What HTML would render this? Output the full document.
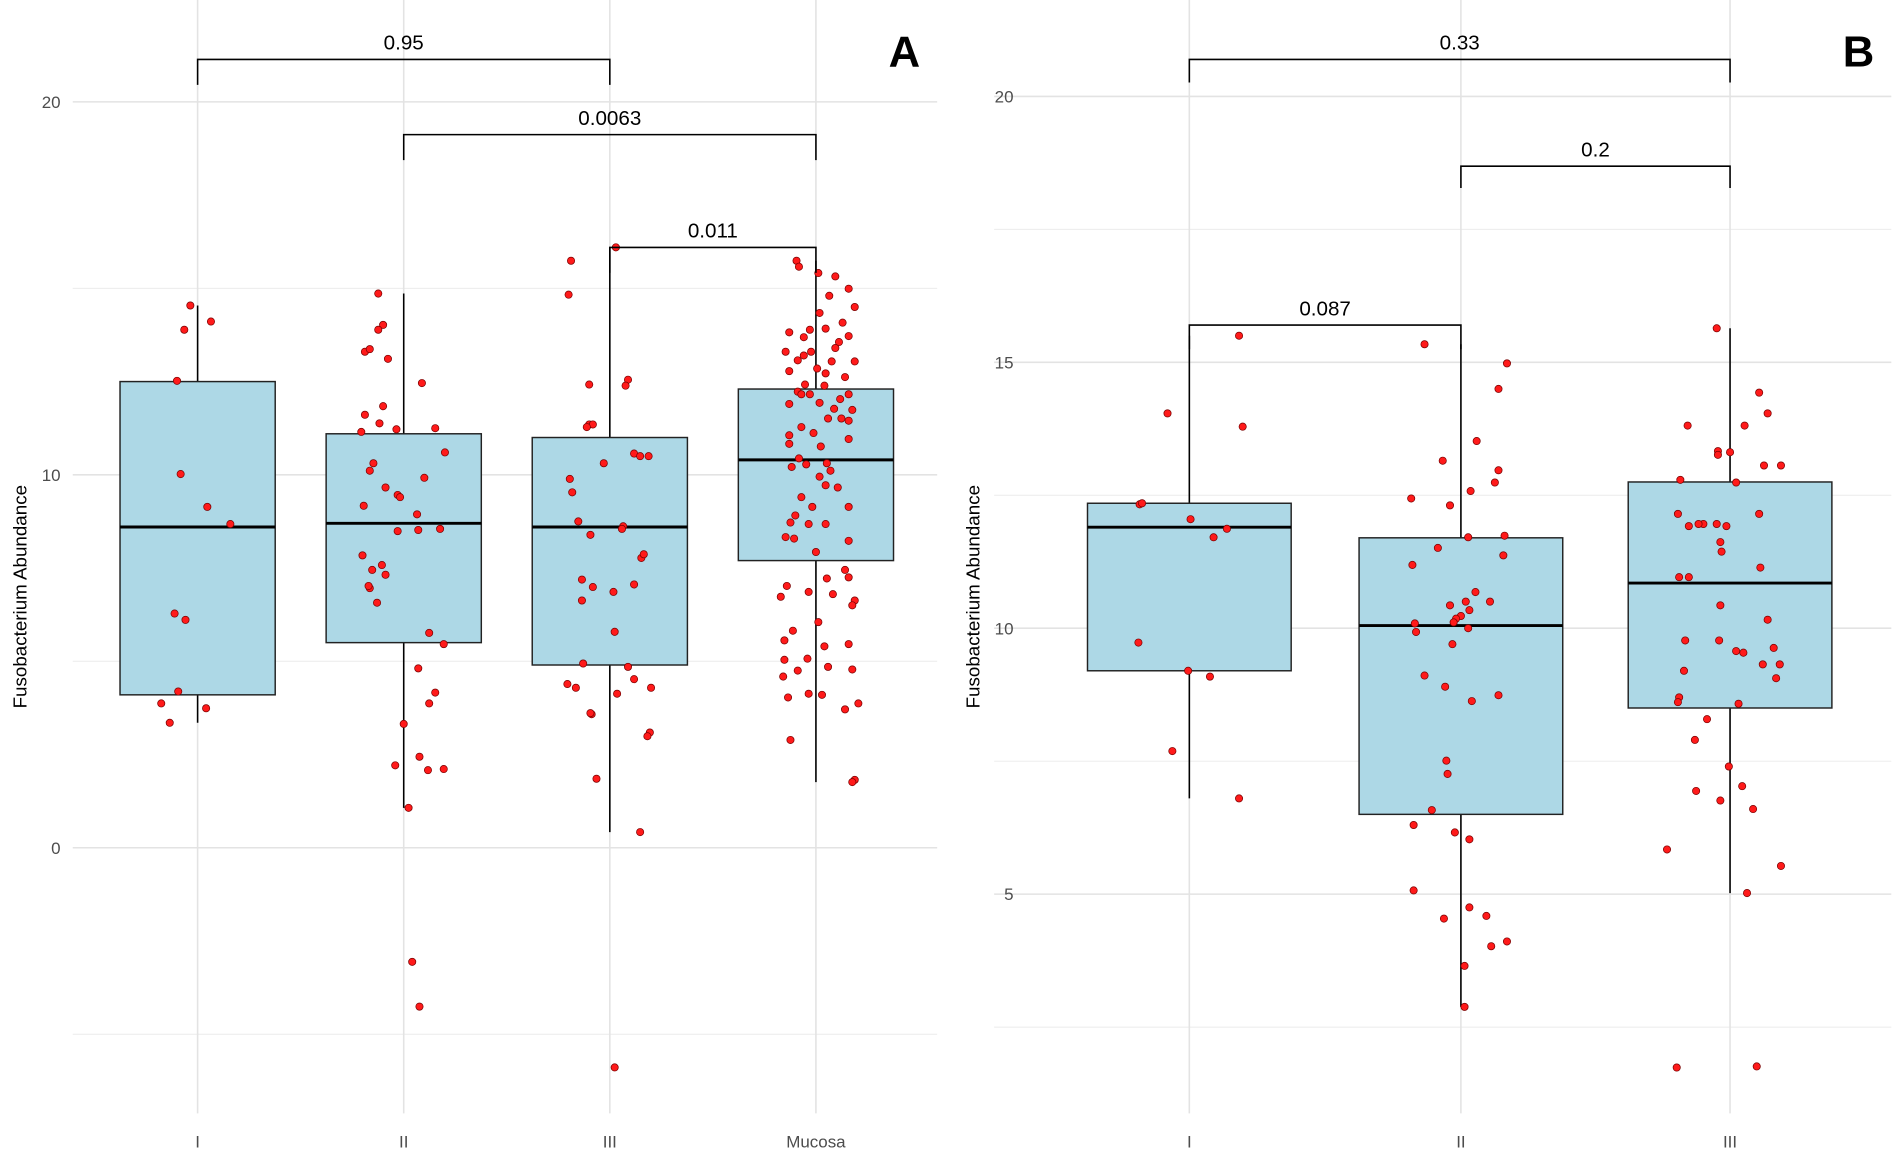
<!DOCTYPE html>
<html><head><meta charset="utf-8"><style>
html,body{margin:0;padding:0;background:#fff;}
svg{display:block;font-family:"Liberation Sans",sans-serif;}
</style></head><body>
<svg id="chart" width="1901" height="1157" viewBox="0 0 1568 954" preserveAspectRatio="none" xmlns="http://www.w3.org/2000/svg"></svg>
<script>
// ---- Panel A data ----
const catsA = ["I","II","III","Mucosa"];
const ticksA = [20,10,0];
const minorA = [15,5,-5];
const boxA_q1 = [4.1,5.5,4.9,7.7];
const boxA_med = [8.6,8.7,8.6,10.4];
const boxA_q3 = [12.5,11.1,11.0,12.3];
const boxA_lo = [3.35,1.07,0.42,1.76];
const boxA_hi = [14.54,14.86,16.1,15.74];
const ptsA_I = [14.54,13.89,14.11,12.52,10.02,9.14,8.68,6.28,6.11,4.19,3.87,3.74,3.35];
const jitA_I = [-6,-11,11,-17,-14,8,27,-19,-10,-16,-30,7,-23];
const ptsA_II = [14.86,14.02,13.89,13.30,13.37,13.11,12.46,11.84,11.61,11.38,11.22,11.25,11.15,10.60,10.31,10.11,9.66,9.92,9.46,9.40,9.17,8.94,8.52,8.55,8.49,7.84,7.58,7.45,7.32,6.96,7.02,6.57,5.76,5.46,4.81,4.16,3.87,3.32,2.44,2.21,2.08,2.11,1.07,-3.06,-4.26];
const jitA_II = [-21,-17,-21,-32,-28,-13,15,-17,-32,-20,-6,26,-35,34,-25,-28,-15,17,-5,-3,-33,11,12,30,-5,-34,-18,-26,-15,-28,-29,-22,21,33,12,26,21,0,13,-7,20,33,4,7,13];
const ptsA_III = [15.74,14.83,16.1,12.42,12.55,12.39,9.89,10.31,10.57,10.50,10.50,11.35,11.35,11.28,9.53,8.75,8.62,8.55,8.39,7.77,7.87,7.19,6.99,6.63,6.86,5.79,7.06,4.39,4.94,4.29,4.85,4.52,4.29,4.13,3.58,3.61,3.09,2.99,1.85,0.42,-5.89];
const jitA_III = [-32,-34,5,-17,15,13,-33,-5,20,25,32,-17,-14,-19,-31,-26,11,10,-16,26,28,-23,-14,-23,3,4,20,-35,-22,-28,15,20,34,6,-15,-16,33,31,-11,25,4];
const ptsA_M = [15.74,15.41,15.58,15.32,14.99,14.80,14.50,14.34,14.08,13.92,13.82,13.89,13.69,13.72,13.56,13.40,13.30,13.30,13.20,13.07,13.04,13.04,12.85,12.78,12.72,12.62,12.42,12.39,12.23,12.16,12.16,12.03,12.16,11.93,11.90,11.77,11.74,11.51,11.45,11.51,11.28,11.12,11.06,10.96,10.76,10.83,10.44,10.31,10.28,10.11,10.21,9.95,9.72,9.66,9.40,9.14,9.14,8.91,8.72,8.68,8.68,8.33,8.23,8.29,7.93,7.45,7.25,7.22,7.02,6.86,6.73,6.80,6.63,6.50,6.05,5.82,5.56,5.40,5.46,5.04,5.07,4.85,4.75,4.78,4.59,4.13,4.10,4.03,3.87,3.71,2.89,1.82,1.76];
const jitA_M = [-16,2,-14,16,27,11,32,3,22,8,-22,-5,-10,27,19,16,-4,-25,-10,-15,32,13,1,-22,8,24,-9,7,-15,-5,27,20,-12,3,-22,15,30,21,27,10,-12,-2,-22,27,4,-22,-14,9,-8,12,-20,3,8,18,-12,27,-3,-17,-21,-6,8,-25,27,-18,0,24,27,9,-24,-6,-29,14,32,30,2,-19,-26,7,27,-26,-7,10,-15,30,-27,-6,5,-23,35,24,-21,32,30];
const pLabelsA = ["0.95","0.0063","0.011"];
// ---- Panel B data ----
const catsB = ["I","II","III"];
const ticksB = [20,15,10,5];
const minorB = [17.5,12.5,7.5,2.5];
const boxB_q1 = [9.2,6.5,8.5];
const boxB_med = [11.9,10.05,10.85];
const boxB_q3 = [12.35,11.7,12.75];
const boxB_lo = [6.8,2.88,5.02];
const boxB_hi = [15.5,15.34,15.64];
const ptsB_I = [15.50,14.04,13.79,12.33,12.35,12.05,11.87,11.71,9.73,9.20,9.09,7.69,6.80];
const jitB_I = [41,-18,44,-41,-39,1,31,20,-42,-1,17,-14,41];
const ptsB_II = [15.34,14.98,14.50,13.52,13.15,12.97,12.74,12.58,12.44,12.31,11.71,11.74,11.19,11.51,11.37,10.68,10.50,10.50,10.43,10.34,10.23,10.18,10.11,10.09,9.93,10.0,9.70,9.11,8.90,8.63,8.74,7.51,7.26,6.58,6.30,6.16,6.03,5.07,4.75,4.59,4.54,4.11,4.02,3.65,2.88];
const jitB_II = [-30,38,31,13,-15,31,28,8,-41,-9,6,36,-40,-19,35,12,24,4,-9,7,0,-4,-6,-38,-37,6,-7,-30,-13,9,31,-12,-11,-24,-39,-5,7,-39,7,21,-14,38,25,3,3];
const ptsB_III = [15.64,14.43,14.04,13.81,13.81,13.33,13.31,13.26,13.06,13.06,12.74,12.79,12.15,12.15,11.96,11.96,11.96,11.92,11.92,11.62,11.44,11.14,10.96,10.96,10.43,10.16,9.77,9.77,9.63,9.54,9.57,9.32,9.32,9.20,9.06,8.70,8.58,8.61,8.29,7.90,7.40,7.03,6.76,6.60,6.94,5.84,5.53,5.02,1.74,1.76];
const jitB_III = [-11,24,31,-35,12,-10,0,-10,42,28,5,-41,24,-43,-22,-11,-26,-34,-3,-8,-7,25,-42,-34,-8,31,-9,-37,36,11,5,27,41,-38,38,-42,7,-43,-19,-29,-1,10,-8,19,-28,-52,42,14,-44,22];
const pLabelsB = ["0.33","0.2","0.087"];

const NS="http://www.w3.org/2000/svg";
const svg=document.getElementById('chart');
function mk(tag,attrs,parent){const e=document.createElementNS(NS,tag);for(const k in attrs)e.setAttribute(k,attrs[k]);(parent||svg).appendChild(e);return e;}

function panel(cfg){
  const g=mk('g',{});
  
  
  const y=v=>cfg.y0-(v-cfg.v0)*cfg.k;
  const x=i=>cfg.xs[i];
  cfg.minor.forEach(v=>{const l=mk('line',{x1:cfg.left,x2:cfg.right,y1:y(v),y2:y(v),stroke:'#ebebeb','stroke-width':0.8},g);
    });
  cfg.ticks.forEach(v=>{const l=mk('line',{x1:cfg.left,x2:cfg.right,y1:y(v),y2:y(v),stroke:'#e3e3e3','stroke-width':1.3},g);
    
    const t=mk('text',{x:cfg.tx,y:y(v)+5,'text-anchor':'end','font-size':14,fill:'#4d4d4d'},g);t.textContent=v;
    });
  cfg.cats.forEach((c,i)=>{const l=mk('line',{x1:x(i),x2:x(i),y1:0,y2:918,stroke:'#e3e3e3','stroke-width':1.3},g);
    
    const t=mk('text',{x:x(i),y:946,'text-anchor':'middle','font-size':14,fill:'#4d4d4d'},g);t.textContent=c;
    });
  cfg.cats.forEach((c,i)=>{
    const hw=cfg.bw/2;
    const w=mk('line',{x1:x(i),x2:x(i),y1:y(cfg.lo[i]),y2:y(cfg.hi[i]),stroke:'#000','stroke-width':1.3},g);
    
    const r=mk('rect',{x:x(i)-hw,y:y(cfg.q3[i]),width:cfg.bw,height:y(cfg.q1[i])-y(cfg.q3[i]),fill:'#add8e6',stroke:'#222','stroke-width':1.2},g);
    
    const m=mk('line',{x1:x(i)-hw,x2:x(i)+hw,y1:y(cfg.med[i]),y2:y(cfg.med[i]),stroke:'#000','stroke-width':2.4},g);
    
  });
  cfg.pts.forEach((arr,i)=>{const j=cfg.jit[i];const n=Math.min(arr.length,j.length);
    for(let p=0;p<n;p++){const c=mk('circle',{cx:x(i)+j[p],cy:y(arr[p]),r:3,fill:'#ff1a1a',stroke:'#7a0000','stroke-width':0.6},g);
      }});
  cfg.br.forEach((b,k)=>{
    const by=b.y, x1=x(b.a), x2=x(b.b);
    const p=mk('path',{d:`M${x1},${by+b.t} V${by} H${x2} V${by+b.t}`,fill:'none',stroke:'#000','stroke-width':1.3},g);
    
    const t=mk('text',{x:(x1+x2)/2,y:by-8,'text-anchor':'middle','font-size':17,fill:'#000'},g);t.textContent=cfg.pl[k];
    
  });
  const yt=mk('text',{x:0,y:0,'text-anchor':'middle','font-size':15.5,fill:'#000',transform:`translate(${cfg.ytx},492) rotate(-90)`},g);
  yt.textContent='Fusobacterium Abundance';
  
  const L=mk('text',{x:cfg.lx,y:55,'text-anchor':'middle','font-size':36,'font-weight':'bold',fill:'#000'},g);
  L.textContent=cfg.letter;
  
}

panel({name:'panel-a',y0:699,v0:0,k:30.75,xs:[163,333,503,673],left:60,right:773,bw:128,tx:50,
  cats:catsA,ticks:ticksA,minor:minorA,q1:boxA_q1,med:boxA_med,q3:boxA_q3,lo:boxA_lo,hi:boxA_hi,
  pts:[ptsA_I,ptsA_II,ptsA_III,ptsA_M],jit:[jitA_I,jitA_II,jitA_III,jitA_M],
  br:[{a:0,b:2,y:49,t:21},{a:1,b:3,y:111,t:21},{a:2,b:3,y:204,t:21}],pl:pLabelsA,ytx:22,lx:746,letter:'A'});
panel({name:'panel-b',y0:518,v0:10,k:43.85,xs:[981,1205,1427],left:820,right:1560,bw:168,tx:836,
  cats:catsB,ticks:ticksB,minor:minorB,q1:boxB_q1,med:boxB_med,q3:boxB_q3,lo:boxB_lo,hi:boxB_hi,
  pts:[ptsB_I,ptsB_II,ptsB_III],jit:[jitB_I,jitB_II,jitB_III],
  br:[{a:0,b:2,y:49,t:19},{a:1,b:2,y:137,t:18},{a:0,b:1,y:268,t:20}],pl:pLabelsB,ytx:808,lx:1533,letter:'B'});
</script>
</body></html>
